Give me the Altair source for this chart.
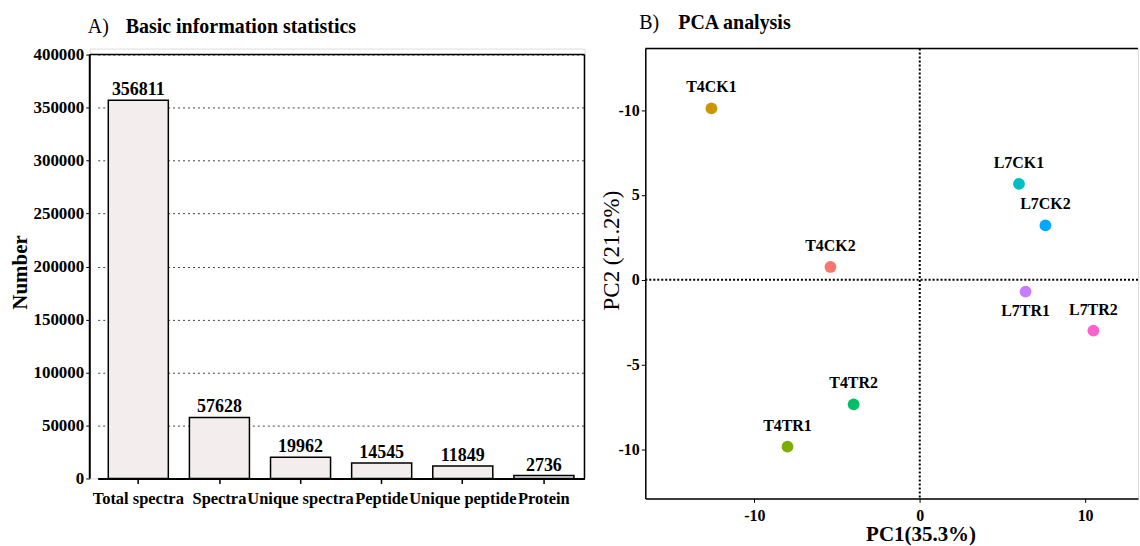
import altair as alt
import pandas as pd

# ---------------- data ----------------
categories = ["Total spectra", "Spectra", "Unique spectra", "Peptide", "Unique peptide", "Protein"]
counts = [356811, 57628, 19962, 14545, 11849, 2736]
y_ticks_a = [0, 50000, 100000, 150000, 200000, 250000, 300000, 350000, 400000]

samples = ["T4CK1", "T4CK2", "T4TR1", "T4TR2", "L7CK1", "L7CK2", "L7TR1", "L7TR2"]
pc1 = [-12.6, -5.4, -8.0, -4.0, 6.0, 7.6, 6.4, 10.5]
pc2 = [10.1, 0.75, -9.85, -7.35, 5.65, 3.2, -0.7, -3.0]
sample_colors = ["#CD9600", "#F8766D", "#7CAE00", "#00BE67", "#00BFC4", "#00A9FF", "#C77CFF", "#FF61CC"]
x_ticks_b = [-10, 0, 10]
y_ticks_b = [-10, -5, 0, 5, 10]

FONT = "Liberation Serif"
WA, HA = 496, 431
WB, HB = 494, 451
YMAX_A = 400000 * HA / 425

dfA = pd.DataFrame({"category": categories, "count": counts})
dfB = pd.DataFrame({"sample": samples, "pc1": pc1, "pc2": pc2})
one = pd.DataFrame({"k": [0]})

# ---------------- panel A ----------------
xA = alt.X("category:N", sort=categories,
           scale=alt.Scale(range=[8, WA], paddingInner=0.26, paddingOuter=0.13),
           axis=alt.Axis(title=None, labelAngle=0, labelFont=FONT, labelFontWeight="bold",
                         labelFontSize=16.5, labelColor="black", tickColor="black", tickSize=5,
                         tickWidth=1.5, domainColor="black", domainWidth=2, labelOverlap=False,
                         labelPadding=7))
yA = alt.Y("count:Q", scale=alt.Scale(domain=[0, YMAX_A], nice=False),
           axis=alt.Axis(values=y_ticks_a, format="d", title="Number", titleFont=FONT,
                         titleFontWeight="bold", titleFontSize=21, titleColor="black",
                         titleX=-69, titleY=224, titleBaseline="middle", titleAlign="center",
                         labelFont=FONT, labelFontWeight="bold",
                         labelFontSize=17, labelColor="black", tickColor="black", tickSize=4,
                         domain=False, grid=True, gridDash=[2, 3], gridColor="#444",
                         gridWidth=1))

bars = alt.Chart(dfA).mark_bar(fill="#f3eded", stroke="black", strokeWidth=1.5).encode(x=xA, y=yA)
vals = alt.Chart(dfA).mark_text(font=FONT, fontWeight="bold", fontSize=18, baseline="alphabetic",
                                dy=-5, color="black").encode(
    x=alt.X("category:N", sort=categories), y="count:Q", text=alt.Text("count:Q", format="d"))

a_top = alt.Chart(one).mark_rule(color="black", strokeWidth=1.5).encode(
    x=alt.value(0), x2=alt.value(WA), y=alt.datum(400000))
a_left = alt.Chart(one).mark_rule(color="black", strokeWidth=2).encode(
    x=alt.value(0), y=alt.datum(0), y2=alt.datum(400000))
a_right = alt.Chart(one).mark_rule(color="black", strokeWidth=1.5).encode(
    x=alt.value(WA), y=alt.datum(0), y2=alt.datum(400000))

a_t1 = alt.Chart(pd.DataFrame({"t": ["A)"]})).mark_text(
    font=FONT, fontSize=20, align="left", baseline="middle", color="black").encode(
    text="t:N", x=alt.value(-2), y=alt.value(-22))
a_t2 = alt.Chart(pd.DataFrame({"t": ["Basic information statistics"]})).mark_text(
    font=FONT, fontSize=20, fontWeight="bold", align="left", baseline="middle", color="black").encode(
    text="t:N", x=alt.value(36), y=alt.value(-22))

panelA = alt.layer(bars, vals, a_top, a_left, a_right, a_t1, a_t2).properties(width=WA, height=HA)

# ---------------- panel B ----------------
xB = alt.X("pc1:Q", scale=alt.Scale(domain=[-16.6, 13.2], nice=False, zero=False),
           axis=alt.Axis(values=x_ticks_b, labelExpr="toString(datum.value)",
                         title="PC1(35.3%)", titleFont=FONT, titleFontWeight="bold",
                         titleFontSize=21, titleColor="black", titleX=276, titlePadding=0,
                         labelFont=FONT, labelFontWeight="bold", labelFontSize=16,
                         labelPadding=5,
                         labelColor="black", tickColor="black", tickSize=4, domainColor="black",
                         domainWidth=1.5, grid=False))
yB = alt.Y("pc2:Q", scale=alt.Scale(domain=[-12.9, 13.63], nice=False, zero=False),
           axis=alt.Axis(values=y_ticks_b,
                         labelExpr="datum.value == 10 ? '-10' : toString(datum.value)",
                         title="PC2 (21.2%)", titleFont=FONT, titleFontWeight="normal",
                         titleFontSize=23, titleColor="black", titleX=-34, titleY=202,
                         titleBaseline="middle", titleAlign="center",
                         labelFont=FONT, labelFontWeight="bold", labelFontSize=16,
                         labelColor="black", tickColor="black", tickSize=4, domainColor="black",
                         domainWidth=1.5, grid=False))

colorB = alt.Color("sample:N", scale=alt.Scale(domain=samples, range=sample_colors), legend=None)

vline = alt.Chart(one).mark_rule(color="black", strokeWidth=2, strokeDash=[2, 2]).encode(x=alt.datum(0))
hline = alt.Chart(one).mark_rule(color="black", strokeWidth=2, strokeDash=[2, 2]).encode(y=alt.datum(0))
b_top = alt.Chart(one).mark_rule(color="black", strokeWidth=1.5).encode(
    x=alt.value(0), x2=alt.value(WB), y=alt.value(0))

pts = alt.Chart(dfB).mark_circle(size=140, opacity=1).encode(x=xB, y=yB, color=colorB)
lab_up = alt.Chart(dfB).transform_filter("datum.sample != 'L7TR1'").mark_text(
    font=FONT, fontWeight="bold", fontSize=16, dy=-21, color="black").encode(
    x="pc1:Q", y="pc2:Q", text="sample:N")
lab_dn = alt.Chart(dfB).transform_filter("datum.sample == 'L7TR1'").mark_text(
    font=FONT, fontWeight="bold", fontSize=16, dy=20, color="black").encode(
    x="pc1:Q", y="pc2:Q", text="sample:N")

b_t1 = alt.Chart(pd.DataFrame({"t": ["B)"]})).mark_text(
    font=FONT, fontSize=20, align="left", baseline="middle", color="black").encode(
    text="t:N", x=alt.value(-6), y=alt.value(-26))
b_t2 = alt.Chart(pd.DataFrame({"t": ["PCA analysis"]})).mark_text(
    font=FONT, fontSize=20, fontWeight="bold", align="left", baseline="middle", color="black").encode(
    text="t:N", x=alt.value(33), y=alt.value(-26))

panelB = alt.layer(pts, vline, hline, b_top, lab_up, lab_dn, b_t1, b_t2).properties(width=WB, height=HB)

chart = alt.hconcat(panelA, panelB, spacing=61, bounds="flush").configure_view(
    stroke=None).configure(font=FONT, background="white").properties(
    padding={"left": 9, "top": 11, "right": 0, "bottom": 0})

chart.save("out.html", embed_options={"renderer": "svg", "actions": False})
